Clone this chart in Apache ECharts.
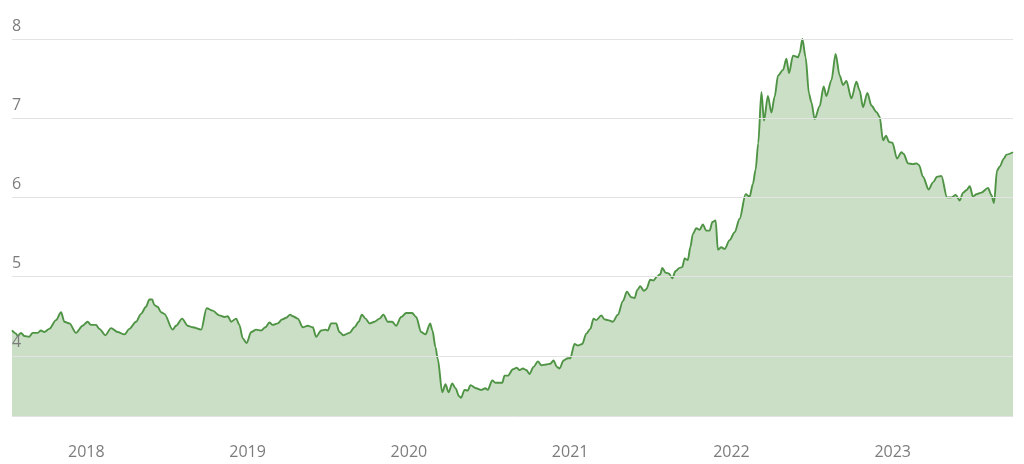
<!DOCTYPE html>
<html><head><meta charset="utf-8">
<script src="https://cdn.jsdelivr.net/npm/echarts@6/dist/echarts.min.js"></script>
<style>html,body{margin:0;padding:0;background:#fff}#c{width:1024px;height:464px}</style>
</head><body><div id="c"></div>
<script>
// dates as decimal years
const dates = [
2017.539,2017.564,2017.574,2017.595,2017.615,2017.646,2017.667,2017.698,2017.719,2017.739,
2017.770,2017.812,2017.843,2017.864,2017.895,2017.936,2017.977,2018.008,2018.029,2018.060,
2018.081,2018.118,2018.153,2018.194,2018.236,2018.267,2018.308,2018.339,2018.370,2018.391,
2018.408,2018.422,2018.442,2018.463,2018.484,2018.535,2018.556,2018.594,2018.628,2018.659,
2018.712,2018.746,2018.784,2018.825,2018.856,2018.877,2018.898,2018.929,2018.949,2018.970,
2018.994,2019.022,2019.053,
2019.084,2019.110,2019.135,2019.156,2019.187,2019.214,2019.239,2019.264,2019.280,2019.311,
2019.342,2019.373,2019.404,2019.425,2019.456,2019.483,2019.497,2019.518,2019.549,2019.569,
2019.594,2019.632,2019.663,2019.689,2019.708,2019.731,2019.756,2019.787,2019.818,2019.842,
2019.869,2019.896,2019.921,2019.952,2019.983,2020.020,2020.045,2020.076,2020.103,2020.132,
2020.146,2020.165,2020.179,
2020.207,2020.227,2020.246,2020.269,2020.289,2020.311,2020.324,2020.345,2020.365,2020.382,
2020.417,2020.448,2020.475,2020.489,2020.517,2020.537,2020.579,2020.593,2020.614,2020.645,
2020.669,2020.686,2020.707,2020.728,2020.748,2020.773,2020.800,2020.821,2020.852,2020.877,
2020.897,2020.918,2020.934,2020.959,2020.986,2021.001,
2021.027,2021.048,2021.075,2021.100,2021.125,2021.145,2021.162,2021.193,2021.213,2021.234,
2021.265,2021.296,2021.327,2021.352,2021.379,2021.400,2021.416,2021.435,2021.457,2021.472,
2021.497,2021.517,2021.538,2021.559,2021.571,2021.592,2021.612,2021.633,2021.654,2021.679,
2021.695,2021.710,2021.730,2021.745,2021.761,2021.782,2021.803,2021.823,2021.844,2021.865,
2021.882,2021.902,2021.916,2021.937,2021.958,2021.989,2022.020,2022.051,2022.088,2022.113,
2022.133,2022.150,2022.166,
2022.186,2022.202,2022.226,2022.248,2022.268,2022.289,2022.320,2022.341,2022.357,2022.382,
2022.413,2022.423,2022.440,2022.460,2022.481,2022.496,2022.516,2022.547,2022.572,2022.589,
2022.620,2022.646,2022.671,2022.692,2022.713,2022.744,2022.775,2022.795,2022.816,2022.843,
2022.868,2022.899,2022.919,2022.940,2022.959,2022.977,2022.998,
2023.027,2023.054,2023.068,2023.095,2023.126,2023.147,2023.163,2023.188,2023.223,2023.250,
2023.275,2023.302,2023.337,2023.364,2023.391,2023.416,2023.436,2023.457,2023.478,2023.498,
2023.519,2023.550,2023.591,2023.612,2023.628,2023.647,2023.664,2023.689,2023.705,2023.746
];
const rates = [
4.32,4.28,4.25,4.29,4.25,4.24,4.29,4.29,4.32,4.30,
4.34,4.45,4.55,4.43,4.41,4.29,4.38,4.43,4.39,4.39,
4.34,4.26,4.35,4.30,4.27,4.34,4.43,4.53,4.62,4.71,
4.71,4.64,4.62,4.55,4.53,4.33,4.38,4.47,4.38,4.36,
4.33,4.60,4.57,4.51,4.49,4.50,4.43,4.47,4.39,4.22,
4.16,4.30,4.33,
4.32,4.36,4.42,4.39,4.41,4.46,4.48,4.52,4.50,4.47,
4.36,4.38,4.36,4.24,4.32,4.33,4.32,4.41,4.41,4.30,
4.26,4.29,4.36,4.43,4.52,4.47,4.41,4.43,4.47,4.52,
4.43,4.43,4.38,4.49,4.54,4.54,4.49,4.30,4.27,4.41,
4.32,4.11,3.96,
3.54,3.64,3.54,3.65,3.59,3.49,3.47,3.57,3.56,3.63,
3.59,3.57,3.59,3.57,3.69,3.66,3.66,3.75,3.75,3.83,
3.85,3.82,3.84,3.82,3.77,3.86,3.93,3.88,3.89,3.90,
3.94,3.86,3.84,3.94,3.97,3.97,
4.15,4.13,4.15,4.28,4.34,4.47,4.45,4.51,4.46,4.45,
4.43,4.52,4.69,4.81,4.74,4.73,4.83,4.88,4.82,4.84,
4.96,4.95,5.00,5.03,5.11,5.05,5.04,4.98,5.07,5.11,
5.12,5.23,5.21,5.37,5.54,5.61,5.59,5.66,5.58,5.58,
5.69,5.71,5.34,5.37,5.35,5.46,5.56,5.73,6.04,6.01,
6.17,6.35,6.68,
7.33,6.97,7.28,7.07,7.27,7.54,7.61,7.75,7.57,7.79,
7.77,7.82,8.00,7.77,7.31,7.20,6.99,7.15,7.40,7.28,
7.48,7.81,7.54,7.42,7.47,7.25,7.46,7.35,7.14,7.32,
7.16,7.08,7.02,6.72,6.78,6.70,6.69,
6.49,6.57,6.55,6.43,6.42,6.43,6.41,6.26,6.10,6.19,
6.26,6.27,6.00,6.00,6.03,5.96,6.06,6.09,6.14,6.01,
6.04,6.06,6.12,6.03,5.93,6.34,6.39,6.49,6.54,6.57
];
const yearTicks = [2018, 2019, 2020, 2021, 2022, 2023];
const rateTicks = [4, 5, 6, 7, 8];

const chart = echarts.init(document.getElementById('c'), null, {renderer: 'canvas'});
const labelColor = '#7c7c7c';
chart.setOption({
  animation: false,
  backgroundColor: '#ffffff',
  textStyle: {fontFamily: 'Open Sans'},
  grid: {left: 12, right: 11, top: 39, bottom: 48},
  xAxis: {
    type: 'value',
    min: 'dataMin', max: 'dataMax',
    axisLine: {show: false},
    axisTick: {show: false},
    splitLine: {show: false},
    axisLabel: {
      customValues: yearTicks,
      color: labelColor, fontSize: 16, margin: 28,
      formatter: v => String(Math.round(v))
    }
  },
  yAxis: {
    type: 'value',
    min: 3.24, max: 8,
    z: 5,
    axisLine: {show: false},
    axisTick: {show: false},
    splitLine: {lineStyle: {color: '#e3e3e3', width: 1}},
    axisLabel: {
      customValues: rateTicks,
      inside: true, margin: 0, align: 'left', verticalAlign: 'bottom',
      padding: [0, 0, 5, 0],
      color: labelColor, fontSize: 16
    }
  },
  series: [{
    type: 'line',
    data: dates.map((d, i) => [d, rates[i]]),
    showSymbol: false,
    smooth: 0.3,
    smoothMonotone: 'x',
    lineStyle: {color: '#4f9445', width: 1.9},
    areaStyle: {color: 'rgb(70,135,50)', opacity: 0.28}
  }]
});
</script>
</body></html>
